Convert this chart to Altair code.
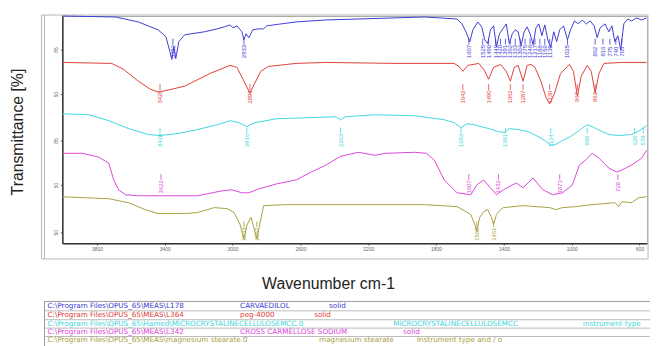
import altair as alt
import pandas as pd

# ---------------- data ----------------
trace_names = ["CARVAEDILOL", "peg-4000", "MCC", "CROSS CARMELLOSE SODIUM", "magnesium stearate"]
trace_colors = ["#3c3cd2", "#e0403a", "#3ed6dc", "#dc44dc", "#a6a040"]

# stacked (offset) transmittance, one band per sample
carv_wn = [4004, 3690, 3556, 3439, 3393, 3370, 3358, 3346, 3335, 3317, 3282, 3166, 3090, 3049, 3015, 2997,
           2974, 2945, 2933, 2921, 2904, 2881, 2846, 2817, 2799, 2759, 2625, 2450, 1868, 1676, 1647, 1624,
           1601, 1583, 1554, 1531, 1513, 1496, 1479, 1461, 1444, 1426, 1403, 1386, 1368, 1351, 1333, 1316,
           1298, 1281, 1263, 1246, 1228, 1211, 1194, 1176, 1159, 1141, 1124, 1106, 1089, 1071, 1048, 1025,
           1007, 984, 961, 938, 914, 891, 868, 850, 833, 804, 781, 763, 746, 728, 711, 693, 670, 647, 618,
           588, 559]
carv_t = [230, 229, 224, 216, 209, 194, 186, 199, 187, 204, 211, 214, 217, 219, 221, 218,
          220, 214, 206, 212, 208, 216, 217, 217, 220, 221, 224, 226, 229, 227, 222, 214,
          204, 216, 224, 219, 206, 202, 216, 220, 199, 212, 218, 222, 202, 212, 216, 214,
          200, 214, 219, 212, 201, 218, 222, 210, 221, 206, 198, 214, 204, 216, 220, 206,
          216, 225, 222, 226, 222, 225, 220, 208, 218, 222, 214, 220, 204, 210, 196, 222, 227, 225, 228,
          226, 228]

peg_wn = [4004, 3713, 3643, 3556, 3486, 3439, 3381, 3282, 3131, 3015, 2974, 2939, 2898, 2869, 2834, 2788,
          2625, 2450, 2043, 1694, 1665, 1642, 1613, 1548, 1519, 1490, 1461, 1420, 1386, 1362, 1339, 1316,
          1287, 1263, 1240, 1217, 1182, 1153, 1130, 1101, 1066, 1013, 990, 967, 944, 909, 885, 862, 839,
          810, 705, 559]
peg_t = [183, 182, 176, 164, 156, 153, 155, 159, 172, 180, 178, 166, 152, 162, 174, 179,
         182, 183, 182, 182, 179, 174, 180, 182, 176, 166, 178, 181, 174, 164, 178, 180,
         164, 180, 181, 178, 164, 148, 141, 152, 172, 181, 174, 149, 169, 180, 174, 152, 172,
         182, 183, 183]

mcc_wn = [4004, 3847, 3730, 3614, 3497, 3428, 3323, 3207, 3090, 3015, 2962, 2916, 2869, 2741, 2567, 2392,
          2363, 2334, 2159, 1927, 1752, 1694, 1653, 1618, 1578, 1490, 1432, 1397, 1368, 1316, 1257, 1199,
          1159, 1124, 1095, 1054, 1007, 949, 909, 879, 833, 781, 722, 647, 600, 559]
mcc_t = [131, 130, 124, 116, 110, 109, 111, 115, 120, 124, 122, 118, 122, 126, 127, 128,
         125, 128, 130, 129, 125, 122, 117, 121, 120, 116, 113, 112, 116, 115, 113, 108,
         104, 99, 100, 104, 108, 115, 120, 118, 114, 110, 109, 110, 114, 119]

ccs_wn = [4004, 3887, 3788, 3730, 3701, 3672, 3631, 3556, 3207, 3061, 3003, 2945, 2904, 2846, 2741, 2625,
          2537, 2450, 2363, 2258, 2159, 2101, 1927, 1857, 1810, 1752, 1676, 1595, 1560, 1519, 1479, 1444,
          1403, 1362, 1327, 1287, 1228, 1170, 1112, 1054, 996, 955, 920, 879, 839, 781, 734, 705, 647, 588,
          559]
ccs_t = [91, 91, 87, 81, 64, 54, 49, 48, 48, 53, 54, 51, 51, 55, 60, 64,
         72, 79, 88, 92, 89, 91, 92, 91, 84, 64, 51, 49, 59, 64, 56, 49,
         54, 58, 61, 56, 66, 54, 49, 51, 59, 79, 84, 91, 86, 76, 72, 74, 79, 86,
         94]

mgst_wn = [4004, 3730, 3614, 3515, 3439, 3282, 3207, 3108, 3032, 2991, 2956, 2933, 2916, 2892, 2875, 2857,
           2840, 2817, 2683, 2450, 1868, 1676, 1595, 1572, 1560, 1543, 1519, 1496, 1473, 1461, 1444, 1420,
           1403, 1287, 1130, 1095, 1054, 978, 879, 746, 722, 705, 647, 606, 559]
mgst_t = [47, 45, 41, 34, 30, 30, 31, 36, 35, 31, 19, 4, 18, 26, 16, 4,
          19, 38, 39, 39, 39, 37, 29, 19, 12, 26, 32, 34, 26, 19, 29, 34,
          36, 38, 36, 34, 36, 37, 39, 41, 37, 42, 41, 46, 47]

# peak picks (wavenumbers)
carv_peaks = [3352, 2933, 1607, 1525, 1490, 1449, 1420, 1391, 1362, 1333, 1304, 1275, 1246, 1217, 1188,
              1159, 1130, 1025, 862, 816, 775, 740, 705]
peg_peaks = [3428, 2898, 1642, 1490, 1362, 1287, 1130, 967, 862]
mcc_peaks = [3428, 2916, 2363, 1653, 1391, 1124, 909, 629, 578]
ccs_peaks = [3422, 1607, 1432, 1071, 728]
mgst_peaks = [2933, 2857, 1560, 1461]
peak_levels = [194, 148, 104, 57, 9]

# axis ticks
x_ticks = [3800, 3600, 3400, 3200, 3000, 2800, 2600, 2400, 2200, 2000, 1800, 1600, 1400, 1200, 1000, 800, 600]
y_tick_pos = [224, 196, 177, 151, 132, 104, 86, 59, 41, 11]
y_tick_lab = ["90", "85", "100", "50", "90", "85", "100", "50", "90", "50"]

# file list below the plot
legend_paths = ["C:\\Program Files\\OPUS_65\\MEAS\\L178",
                "C:\\Program Files\\OPUS_65\\MEAS\\L364",
                "C:\\Program Files\\OPUS_65\\Hamed\\MICROCRYSTALINECELLULOSEMCC.0",
                "C:\\Program Files\\OPUS_65\\MEAS\\L342",
                "C:\\Program Files\\OPUS_65\\MEAS\\magnesium stearate.0"]
legend_names = ["CARVAEDILOL", "peg-4000", "MICROCRYSTALINECELLULOSEMCC", "CROSS CARMELLOSE SODIUM",
                "magnesium stearate"]
legend_notes = ["solid", "solid", "instrument type", "solid",
                "Instrument type and / o"]

# ---------------- build tables ----------------
series = [(carv_wn, carv_t), (peg_wn, peg_t), (mcc_wn, mcc_t), (ccs_wn, ccs_t), (mgst_wn, mgst_t)]
rows = []
for name, (wn, t) in zip(trace_names, series):
    for i, (a, b) in enumerate(zip(wn, t)):
        rows.append({"trace": name, "wn": a, "T": b, "idx": i})
df = pd.DataFrame(rows)

peaks = [carv_peaks, peg_peaks, mcc_peaks, ccs_peaks, mgst_peaks]
prow = []
for name, pk, lvl in zip(trace_names, peaks, peak_levels):
    for p in pk:
        prow.append({"trace": name, "wn": p, "label": str(p), "level": lvl})
pdf = pd.DataFrame(prow)

xscale = alt.Scale(domain=[4004, 556], nice=False, zero=False)
yscale = alt.Scale(domain=[0, 230], nice=False, zero=False)
cscale = alt.Scale(domain=trace_names, range=trace_colors)

label_expr = " : ".join(f"datum.value == {p} ? '{l}'" for p, l in zip(y_tick_pos, y_tick_lab)) + " : ''"

x_axis = alt.Axis(values=x_ticks, format="d", labelFontSize=5, labelColor="#666", labelPadding=1,
                  tickSize=2, tickColor="#666", domainColor="#333", domainWidth=1.5, grid=False,
                  title="Wavenumber cm-1", titleFontSize=16, titleFontWeight="normal", titleColor="#222",
                  titleX=269, titleY=33, titleBaseline="top", titleAlign="center")
y_axis = alt.Axis(values=y_tick_pos, labelExpr=label_expr, labelAngle=270, labelAlign="center",
                  labelBaseline="bottom", labelFontSize=5, labelColor="#666", labelPadding=2,
                  tickSize=2, tickColor="#666", domainColor="#333", domainWidth=1.5, grid=False,
                  title="Transmittance [%]", titleFontSize=16, titleFontWeight="normal", titleColor="#222",
                  titleX=-45, titleY=117, titleAngle=270, titleAlign="center", titleBaseline="middle")

lines = alt.Chart(df).mark_line(strokeWidth=1).encode(
    x=alt.X("wn:Q", scale=xscale, axis=x_axis),
    y=alt.Y("T:Q", scale=yscale, axis=y_axis),
    color=alt.Color("trace:N", scale=cscale, legend=None),
    order=alt.Order("idx:Q"),
)

peak_text = alt.Chart(pdf).mark_text(fontSize=6, angle=270, align="center", baseline="middle").encode(
    x=alt.X("wn:Q", scale=xscale),
    y=alt.Y("level:Q", scale=yscale),
    text="label:N",
    color=alt.Color("trace:N", scale=cscale, legend=None),
)

peak_rule = alt.Chart(pdf).transform_calculate(
    y1="datum.level + 7", y2="datum.level + 13"
).mark_rule(strokeWidth=0.8).encode(
    x=alt.X("wn:Q", scale=xscale),
    y=alt.Y("y1:Q", scale=yscale),
    y2="y2:Q",
    color=alt.Color("trace:N", scale=cscale, legend=None),
)

one = pd.DataFrame({"a": [0]})
outer = alt.Chart(one).mark_rect(fill="transparent", stroke="#b5b5b5", strokeWidth=1).encode(
    x=alt.value(-21), x2=alt.value(593), y=alt.value(-1), y2=alt.value(246))
outer2 = alt.Chart(one).mark_rule(stroke="#b5b5b5", strokeWidth=1).encode(
    x=alt.value(-18), y=alt.value(-1), y2=alt.value(246))

legend_box = alt.Chart(one).mark_rect(fill="transparent", stroke="#999", strokeWidth=1).encode(
    x=alt.value(-18), x2=alt.value(600), y=alt.value(289), y2=alt.value(340))

layers = [outer, outer2, lines, peak_rule, peak_text, legend_box]

row_y = [294, 303, 312, 320, 328]
sep_y = [298.5, 307.5, 316, 324.5]
for sy in sep_y:
    layers.append(alt.Chart(one).mark_rule(stroke="#bbb", strokeWidth=1).encode(
        x=alt.value(-18), x2=alt.value(600), y=alt.value(sy)))

name_x = [180, 180, 335, 180, 260]
note_x = [270, 255, 527, 345, 359]
for i in range(5):
    for txt, xx in ((legend_paths[i], -15), (legend_names[i], name_x[i]), (legend_notes[i], note_x[i])):
        layers.append(alt.Chart(pd.DataFrame({"t": [txt]})).mark_text(
            font="DejaVu Sans", fontSize=7.3, align="left", baseline="middle", color=trace_colors[i]).encode(
            text="t:N", x=alt.value(xx), y=alt.value(row_y[i])))

chart = alt.layer(*layers).properties(
    width=592, height=230,
    autosize=alt.AutoSizeParams(type="none"),
    padding={"left": 55, "top": 6, "right": 3, "bottom": 102},
).configure(font="Liberation Sans").configure_view(stroke="#aaa", strokeWidth=1)

chart.save("out.html", embed_options={"renderer": "svg", "actions": False})
